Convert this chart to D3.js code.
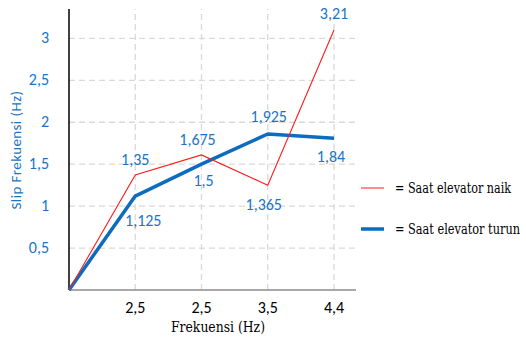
<!DOCTYPE html>
<html>
<head>
<meta charset="utf-8">
<script src="https://cdn.jsdelivr.net/npm/d3@7"></script>
<style>
  body { margin: 0; background: #fff; }
  svg { display: block; }
  .serif { font-family: "DejaVu Serif Condensed", "DejaVu Serif", serif; font-stretch: condensed; }
  .sans { font-family: Carlito, Lato, "Open Sans", sans-serif; }
</style>
</head>
<body>
<script>
// x categories (first one is the origin, no label shown)
var xLabels = ["", "2,5", "2,5", "3,5", "4,4"];
var yTicks = [0.5, 1, 1.5, 2, 2.5, 3];

// plotted values
var naik = [0, 1.37, 1.61, 1.25, 3.10];
var turun = [0, 1.12, 1.5, 1.86, 1.81];
// data labels as written on the chart
var naikLabels = ["", "1,35", "1,675", "1,365", "3,21"];
var turunLabels = ["", "1,125", "1,5", "1,925", "1,84"];

var w = 526, h = 340;
var margin = {left: 69, top: 9, bottom: 50};
var plotRight = 356;

var svg = d3.select("body").append("svg")
    .attr("width", w)
    .attr("height", h);

var x = d3.scaleLinear()
    .domain([0, xLabels.length - 1])
    .range([margin.left, 334]);

var y = d3.scaleLinear()
    .domain([0, 3.35])
    .range([h - margin.bottom, margin.top]);

var blue = "#1874C6";

// horizontal grid
svg.selectAll(".hgrid")
    .data(yTicks)
    .enter().append("line")
    .attr("class", "hgrid")
    .attr("x1", margin.left).attr("x2", plotRight)
    .attr("y1", function(d){ return y(d); })
    .attr("y2", function(d){ return y(d); })
    .attr("stroke", "#d9d9d9")
    .attr("stroke-width", 1.3)
    .attr("stroke-dasharray", "6,4");

// vertical grid
svg.selectAll(".vgrid")
    .data(d3.range(1, xLabels.length))
    .enter().append("line")
    .attr("class", "vgrid")
    .attr("x1", function(d){ return x(d); })
    .attr("x2", function(d){ return x(d); })
    .attr("y1", y(0)).attr("y2", y(3.35))
    .attr("stroke", "#d9d9d9")
    .attr("stroke-width", 1.3)
    .attr("stroke-dasharray", "6,4");

// x axis line
svg.append("line")
    .attr("x1", margin.left).attr("x2", plotRight)
    .attr("y1", y(0)).attr("y2", y(0))
    .attr("stroke", "#8c8c8c")
    .attr("stroke-width", 1.5);

// y axis line
svg.append("line")
    .attr("x1", margin.left).attr("x2", margin.left)
    .attr("y1", y(0)).attr("y2", y(3.35))
    .attr("stroke", "#000")
    .attr("stroke-width", 1.5);

// y tick labels
svg.selectAll(".ytick")
    .data(yTicks)
    .enter().append("text")
    .attr("class", "ytick sans")
    .attr("x", 49)
    .attr("y", function(d){ return y(d) + 5; })
    .attr("text-anchor", "end")
    .attr("font-size", 16)
    .attr("fill", blue)
    .text(function(d){ return String(d).replace(".", ","); });

// x tick labels
svg.selectAll(".xtick")
    .data(xLabels)
    .enter().append("text")
    .attr("class", "xtick sans")
    .attr("x", function(d, i){ return x(i); })
    .attr("y", 313)
    .attr("text-anchor", "middle")
    .attr("font-size", 16)
    .attr("fill", "#000")
    .text(function(d){ return d; });

// axis titles
svg.append("text")
    .attr("class", "serif")
    .attr("x", 171).attr("y", 332)
    .attr("font-size", 15)
    .attr("textLength", 94)
    .attr("lengthAdjust", "spacingAndGlyphs")
    .attr("fill", "#000")
    .text("Frekuensi (Hz)");

svg.append("text")
    .attr("class", "sans")
    .attr("transform", "translate(21,150) rotate(-90)")
    .attr("text-anchor", "middle")
    .attr("font-size", 15)
    .attr("letter-spacing", 0.4)
    .attr("fill", blue)
    .text("Slip Frekuensi (Hz)");

var line = d3.line()
    .x(function(d, i){ return x(i); })
    .y(function(d){ return y(d); });

svg.append("path")
    .datum(turun)
    .attr("d", line)
    .attr("fill", "none")
    .attr("stroke", "#0B6CC0")
    .attr("stroke-width", 3.5)
    .attr("stroke-linejoin", "round");

svg.append("path")
    .datum(naik)
    .attr("d", line)
    .attr("fill", "none")
    .attr("stroke", "#ff1a1a")
    .attr("stroke-width", 1.1);

// data label offsets from their points
var naikDy = [0, -10, -10, 25, -11];
var turunDy = [0, 30, 22, -12, 24];
var naikDx = [0, 0, -4, -4, 0];
var turunDx = [0, 8, 2, 1, -3];

svg.selectAll(".lblNaik")
    .data(naikLabels)
    .enter().append("text")
    .attr("class", "lblNaik sans")
    .attr("x", function(d, i){ return x(i) + naikDx[i]; })
    .attr("y", function(d, i){ return y(naik[i]) + naikDy[i]; })
    .attr("text-anchor", "middle")
    .attr("font-size", 16)
    .attr("fill", blue)
    .text(function(d){ return d; });

svg.selectAll(".lblTurun")
    .data(turunLabels)
    .enter().append("text")
    .attr("class", "lblTurun sans")
    .attr("x", function(d, i){ return x(i) + turunDx[i]; })
    .attr("y", function(d, i){ return y(turun[i]) + turunDy[i]; })
    .attr("text-anchor", "middle")
    .attr("font-size", 16)
    .attr("fill", blue)
    .text(function(d){ return d; });

// legend
var legend = [
  {name: "= Saat elevator naik", color: "#ff4d4d", width: 1.3, y: 188, len: 116},
  {name: "= Saat elevator turun", color: "#0B6CC0", width: 3.5, y: 229, len: 125}
];

svg.selectAll(".legLine")
    .data(legend)
    .enter().append("line")
    .attr("x1", 361).attr("x2", 384)
    .attr("y1", function(d){ return d.y; })
    .attr("y2", function(d){ return d.y; })
    .attr("stroke", function(d){ return d.color; })
    .attr("stroke-width", function(d){ return d.width; });

svg.selectAll(".legText")
    .data(legend)
    .enter().append("text")
    .attr("class", "serif")
    .attr("x", 395)
    .attr("y", function(d){ return d.y + 5; })
    .attr("font-size", 14)
    .attr("textLength", function(d){ return d.len; })
    .attr("lengthAdjust", "spacingAndGlyphs")
    .attr("fill", "#000")
    .text(function(d){ return d.name; });
</script>
</body>
</html>
